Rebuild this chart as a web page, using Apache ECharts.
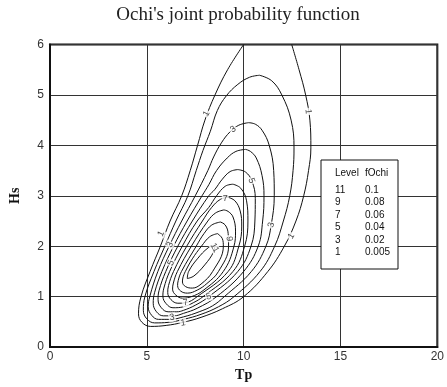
<!DOCTYPE html>
<html><head><meta charset="utf-8">
<script src="https://cdn.jsdelivr.net/npm/echarts/dist/echarts.min.js"></script>
<style>html,body{margin:0;padding:0;background:#fff}#c{width:447px;height:387px}</style>
</head><body><div id="c"></div>
<script>
// Contour rings (Tp, Hs), outer (level 1) to inner (level 11)
const ring1 = [[10.0,6.0],[9.17,5.5],[8.52,5.0],[8.0,4.5],[7.62,4.0],[7.24,3.5],[6.8,3.0],[6.2,2.5],[5.7,2.0],[5.17,1.5],[4.7,1.0],[4.57,0.66],[4.75,0.49],[5.2,0.41],[6.0,0.43],[6.86,0.49],[7.8,0.59],[8.9,0.76],[10.0,1.0],[11.25,1.5],[12.1,2.0],[12.7,2.5],[13.1,3.0],[13.35,3.5],[13.47,3.95],[13.42,4.5],[13.2,5.0],[12.86,5.5],[12.48,6.0]];
const ring2 = [[10.82,5.39],[10.3,5.35],[9.7,5.21],[9.1,4.98],[8.64,4.69],[8.28,4.28],[7.9,3.9],[7.55,3.5],[7.12,3.0],[6.5,2.5],[5.93,2.0],[5.37,1.5],[4.9,1.0],[4.82,0.73],[5.0,0.56],[5.4,0.48],[6.1,0.49],[6.9,0.55],[7.8,0.65],[8.7,0.8],[9.5,1.0],[10.85,1.5],[11.6,2.0],[12.05,2.5],[12.38,3.0],[12.55,3.5],[12.6,3.95],[12.45,4.5],[11.97,5.0],[11.45,5.28],[10.82,5.39]];
const ring3 = [[10.25,4.45],[9.75,4.4],[9.3,4.27],[8.85,4.05],[8.45,3.77],[8.15,3.5],[7.5,3.0],[6.8,2.5],[6.15,2.0],[5.57,1.5],[5.15,1.0],[5.07,0.8],[5.25,0.63],[5.6,0.55],[6.2,0.55],[6.9,0.6],[7.7,0.7],[8.4,0.82],[9.0,1.0],[10.4,1.5],[11.15,2.0],[11.42,2.42],[11.58,3.0],[11.55,3.5],[11.32,4.0],[10.95,4.3],[10.6,4.42],[10.25,4.45]];
const ring4 = [[10.1,3.92],[9.6,3.88],[9.15,3.75],[8.6,3.5],[8.2,3.22],[7.85,3.0],[7.08,2.5],[6.38,2.0],[5.78,1.5],[5.4,1.08],[5.33,0.87],[5.5,0.7],[5.85,0.62],[6.4,0.62],[6.9,0.67],[7.6,0.77],[8.6,1.0],[10.0,1.5],[10.75,2.0],[10.98,2.5],[11.05,3.0],[10.95,3.4],[10.65,3.75],[10.35,3.88],[10.1,3.92]];
const ring5 = [[9.7,3.52],[9.3,3.48],[8.9,3.33],[8.5,3.12],[8.2,3.0],[7.35,2.5],[6.6,2.0],[5.98,1.5],[5.63,1.12],[5.58,0.94],[5.75,0.78],[6.1,0.7],[6.55,0.7],[6.9,0.73],[7.5,0.83],[8.2,1.0],[9.7,1.5],[10.38,2.0],[10.58,2.5],[10.6,2.95],[10.42,3.3],[10.1,3.47],[9.7,3.52]];
const ring6 = [[9.45,3.23],[9.05,3.19],[8.6,3.0],[8.2,2.77],[7.6,2.5],[6.83,2.0],[6.18,1.5],[5.88,1.17],[5.83,1.01],[6.0,0.86],[6.35,0.78],[6.9,0.8],[7.4,0.88],[7.9,1.0],[9.45,1.5],[10.05,2.0],[10.22,2.5],[10.15,2.9],[9.85,3.15],[9.45,3.23]];
const ring7 = [[9.2,2.97],[8.8,2.93],[8.35,2.77],[7.87,2.5],[7.06,2.0],[6.38,1.5],[6.12,1.22],[6.08,1.08],[6.25,0.94],[6.6,0.87],[7.0,0.88],[7.6,1.0],[9.2,1.5],[9.75,2.0],[9.9,2.4],[9.82,2.7],[9.55,2.9],[9.2,2.97]];
const ring8 = [[8.98,2.72],[8.55,2.66],[8.15,2.5],[7.3,2.0],[6.58,1.5],[6.37,1.27],[6.33,1.15],[6.5,1.03],[6.85,0.97],[7.3,1.0],[7.9,1.12],[8.95,1.5],[9.5,2.0],[9.58,2.3],[9.45,2.58],[9.2,2.69],[8.98,2.72]];
const ring9 = [[8.8,2.48],[8.35,2.42],[7.95,2.25],[7.55,2.0],[6.79,1.5],[6.62,1.32],[6.59,1.22],[6.75,1.11],[7.1,1.07],[7.6,1.13],[8.1,1.26],[8.7,1.5],[9.22,2.0],[9.2,2.25],[9.05,2.42],[8.8,2.48]];
const ring10 = [[8.65,2.25],[8.25,2.19],[7.82,2.0],[7.35,1.75],[6.99,1.5],[6.86,1.37],[6.84,1.29],[7.0,1.2],[7.35,1.17],[7.8,1.25],[8.4,1.5],[8.95,2.0],[8.9,2.15],[8.65,2.25]];
const ring11 = [[8.51,2.02],[8.17,1.97],[7.61,1.75],[7.16,1.5],[7.09,1.36],[7.43,1.41],[7.99,1.63],[8.44,1.88],[8.51,2.02]];
const rings = [ring1, ring2, ring3, ring4, ring5, ring6, ring7, ring8, ring9, ring10, ring11];

// Inline contour labels: [Tp, Hs, text]
const contourLabels = [[8.08,4.63,'1'],[13.33,4.67,'1'],[9.45,4.32,'3'],[10.4,3.3,'5'],[9.05,2.95,'7'],[11.42,2.42,'3'],[12.45,2.2,'1'],[9.25,2.15,'9'],[8.5,1.97,'11'],[5.74,2.25,'1'],[6.2,2.03,'3'],[6.25,1.67,'5'],[7.0,0.88,'7'],[8.2,1.0,'5'],[6.3,0.59,'3'],[6.87,0.48,'1']];
const contourLabelAngles = [62,-85,35,-70,0,75,58,-85,-60,65,65,65,10,15,10,8];

// Legend table
const tableHeader = ['Level','fOchi'];
const tableLevel = ['11','9','7','5','3','1'];
const tableValue = ['0.1','0.08','0.06','0.04','0.02','0.005'];

const xTicks = [0,5,10,15,20];
const yTicks = [0,1,2,3,4,5,6];

const chart = echarts.init(document.getElementById('c'), null, {renderer:'canvas'});
const series = rings.map(r => ({
  type:'line', data:r, showSymbol:false, smooth:0.4, clip:true,
  lineStyle:{color:'#111', width:1}, silent:true, z:2
}));
series.push({
  type:'scatter', symbolSize:0, z:5, silent:true,
  data: contourLabels.map((d,i)=>({value:[d[0],d[1]], name:d[2],
    label:{show:true, position:'inside', formatter:d[2], rotate:contourLabelAngles[i],
      fontFamily:'Liberation Sans', fontSize:9, color:'#111',
      backgroundColor:'#fff', padding:[0,1]}}))
});

const legendGraphics = [
  {type:'rect', shape:{x:321, y:160, width:77, height:109}, style:{fill:'#fff', stroke:'#111', lineWidth:1}, z:10},
  {type:'text', x:335, y:173, style:{text:tableHeader[0], font:'10px "Liberation Sans"', fill:'#111', verticalAlign:'middle'}, z:11},
  {type:'text', x:365, y:173, style:{text:tableHeader[1], font:'10px "Liberation Sans"', fill:'#111', verticalAlign:'middle'}, z:11}
];
tableLevel.forEach((t,i)=>{
  legendGraphics.push({type:'text', x:335, y:190+i*12.5, style:{text:t, font:'10px "Liberation Sans"', fill:'#111', verticalAlign:'middle'}, z:11});
  legendGraphics.push({type:'text', x:365, y:190+i*12.5, style:{text:tableValue[i], font:'10px "Liberation Sans"', fill:'#111', verticalAlign:'middle'}, z:11});
});
legendGraphics.push({type:'text', x:238, y:15, style:{text:"Ochi's joint probability function", font:'19px "Liberation Serif"', fill:'#222', align:'center', verticalAlign:'middle'}, z:11});

chart.setOption({
  animation:false,
  backgroundColor:'#fff',
  grid:{left:47, right:6, top:44.5, bottom:35, show:true, borderColor:'#111', borderWidth:2},
  xAxis:{type:'value', min:xTicks[0], max:xTicks[xTicks.length-1], interval:5,
    name:'Tp', nameLocation:'middle', nameGap:17,
    nameTextStyle:{fontFamily:'Liberation Serif', fontWeight:'bold', fontSize:14, color:'#111'},
    axisLine:{show:true, lineStyle:{color:'#111', width:2}}, axisTick:{show:false},
    axisLabel:{margin:4, fontFamily:'Liberation Sans', fontSize:12, color:'#333'},
    splitLine:{show:true, lineStyle:{color:'#333', width:1}}},
  yAxis:{type:'value', min:yTicks[0], max:yTicks[yTicks.length-1], interval:1,
    name:'Hs', nameLocation:'middle', nameGap:28,
    nameTextStyle:{fontFamily:'Liberation Serif', fontWeight:'bold', fontSize:14, color:'#111'},
    axisLine:{show:true, lineStyle:{color:'#111', width:2}}, axisTick:{show:false},
    axisLabel:{margin:6, fontFamily:'Liberation Sans', fontSize:12, color:'#333'},
    splitLine:{show:true, lineStyle:{color:'#333', width:1}}},
  graphic: legendGraphics,
  series: series
});
</script></body></html>
